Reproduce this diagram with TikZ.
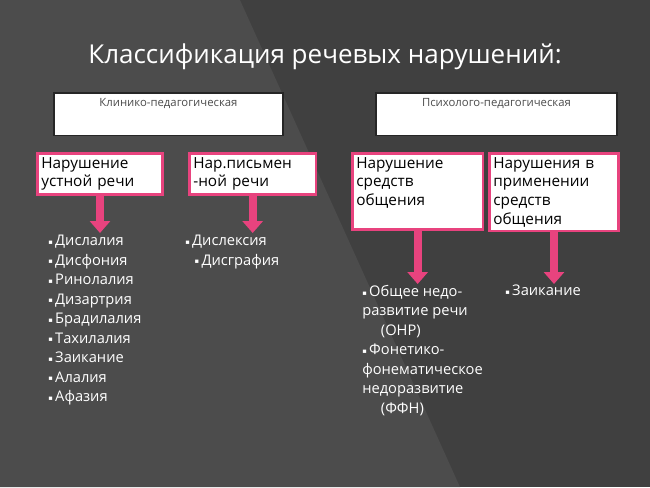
\documentclass[tikz,border=0pt]{standalone}
\usepackage{fontspec}
\setmainfont{Open Sans}
\newfontfamily\symfont{DejaVu Sans}
\usetikzlibrary{arrows.meta,positioning}
\definecolor{bg}{HTML}{404040}
\definecolor{bglight}{HTML}{4C4C4C}
\definecolor{rose}{HTML}{E8437E}
\newcommand{\bul}{\raisebox{1pt}{\symfont\tiny ▪}\,}

\begin{document}
\begin{tikzpicture}[
    x=0.75pt,
    y=-0.75pt,
    headbox/.style={
        rectangle,
        draw=black!85,
        line width=1.2pt,
        fill=white,
        minimum height=32pt,
        inner sep=4pt,
        font=\fontsize{8.5}{9}\selectfont,
        text=black!70,
        anchor=north west
    },
    pinkbox/.style={
        rectangle,
        draw=rose,
        line width=2pt,
        fill=white,
        align=left,
        inner sep=3pt,
        font=\fontsize{11.5}{14}\selectfont,
        anchor=north west
    },
    itemlist/.style={
        align=left,
        text=white,
        inner sep=0pt,
        font=\fontsize{11}{14.6}\selectfont,
        anchor=north west
    },
    arrow/.style={
        line width=6pt,
        draw=rose,
        -{Triangle[width=15pt,length=9pt]}
    }
]

% Фон
\fill[bg] (0,0) rectangle (650,487);
\fill[bglight] (0,0) -- (240,0) -- (460,487) -- (0,487) -- cycle;

% Заголовок
\node[text=white, font=\fontsize{19.5}{20}\selectfont] (title) at (325,57) {Классификация речевых нарушений:};

% Верхние блоки
\node[headbox, minimum width=172pt, text width=164pt, align=center, text depth=18pt] (clin) at (53,92) {Клинико-педагогическая};
\node[headbox, minimum width=181pt, text width=173pt, align=center, text depth=18pt] (psy) at (375,92) {Психолого-педагогическая};

% Розовые блоки
\node[pinkbox, text width=88pt] (oral) at (36,152) {Нарушение\\устной речи};
\node[pinkbox, text width=89pt] (write) at (188,152) {Нар.письмен\\-ной речи};
\node[pinkbox, text width=92pt] (comm) at (351,152) {Нарушение\\средств\\общения\rule[-15pt]{0pt}{0pt}};
\node[pinkbox, text width=91pt] (use) at (488,152) {Нарушения в\\применении\\средств\\общения};

% Стрелки
\coordinate (oralend) at (oral.south |- 0,233);
\coordinate (writeend) at (write.south |- 0,233);
\coordinate (commend) at (comm.south |- 0,284);
\coordinate (useend) at (use.south |- 0,284);
\draw[arrow] (oral.south) -- (oralend);
\draw[arrow] (write.south) -- (writeend);
\draw[arrow] (comm.south) -- (commend);
\draw[arrow] (use.south) -- (useend);

% Списки
\node[itemlist] (oralitems) at (48,235) {\bul Дислалия\\\bul Дисфония\\\bul Ринолалия\\\bul Дизартрия\\\bul Брадилалия\\\bul Тахилалия\\\bul Заикание\\\bul Алалия\\\bul Афазия};
\node[itemlist] (writeitems) at (185,235) {\bul Дислексия\\\hspace*{7pt}\bul Дисграфия};
\node[itemlist] (commitems) at (362,285) {\bul Общее недо-\\развитие речи\\\hspace*{14pt}(ОНР)\\\bul Фонетико-\\фонематическое\\недоразвитие\\\hspace*{14pt}(ФФН)};
\node[itemlist] (useitems) at (505,285) {\bul Заикание};

\end{tikzpicture}
\end{document}
